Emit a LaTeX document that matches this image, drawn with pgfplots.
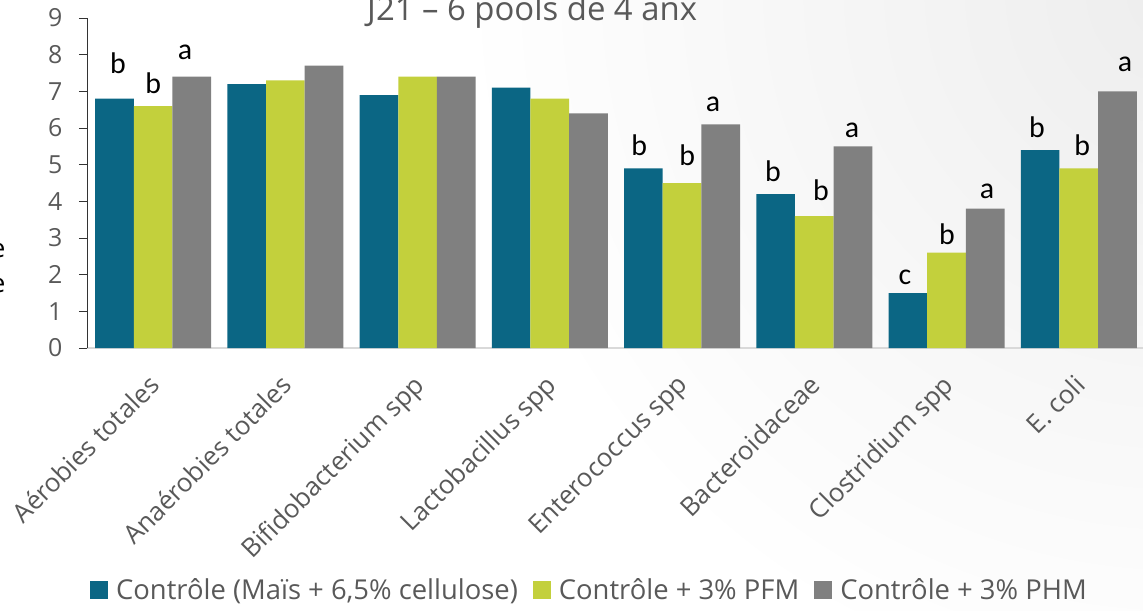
\documentclass[border=0pt]{standalone}
\usepackage{pgfplots}
\pgfplotsset{compat=1.18}
\usepackage{fontspec}
\setmainfont{Open Sans}
\newfontfamily\carl{Carlito}
\definecolor{cteal}{HTML}{0B6684}
\definecolor{clime}{HTML}{C3D03C}
\definecolor{cgray}{HTML}{808080}
\definecolor{txt}{HTML}{595959}
\begin{document}
\begin{tikzpicture}
\useasboundingbox (0,0) rectangle (1143bp,611bp);
\begin{scope}
\clip (0,0) rectangle (1143bp,611bp);
\shade[inner color=black!7, outer color=white] (1180bp,620bp) circle (720bp);
\end{scope}
\begin{axis}[
  at={(87bp,263bp)}, anchor=south west,
  scale only axis, width=1058bp, height=330bp,
  ybar=0pt, bar width=38.7bp,
  xmin=-0.5, xmax=7.5, ymin=0, ymax=9,
  clip=false,
  xtick={0,...,7},
  xticklabels={A\'erobies totales, Ana\'erobies totales, Bifidobacterium spp, Lactobacillus spp, Enterococcus spp, Bacteroidaceae, Clostridium spp, E. coli},
  ytick={0,...,9},
  axis x line*=bottom, axis y line*=left,
  x axis line style={draw=black!15, line width=1.5bp, -},
  y axis line style={draw=black!80, line width=0.8bp, -},
  major x tick style={draw=none},
  major y tick style={draw=black!80, line width=0.8bp},
  tick align=outside, major tick length=8bp,
  /pgf/number format/assume math mode=true,
  yticklabel style={font=\fontsize{25}{30}\selectfont, text=txt, xshift=-13bp},
  xticklabel style={font=\fontsize{26}{31}\selectfont, text=txt, xshift=-6bp, yshift=4bp, rotate=45, anchor=north east},
  xticklabel shift={16bp},
  legend style={at={(0.474,-0.733)}, anchor=center, draw=none, fill=none,
    legend columns=3, font=\fontsize{27.5}{32}\selectfont, text=txt,
    nodes={inner sep=0pt},
    /tikz/every odd column/.append style={column sep=8bp},
    /tikz/every even column/.append style={column sep=15bp}},
  legend image code/.code={\fill[#1] (0bp,-9bp) rectangle (18bp,9bp);},
]
\addplot[fill=cteal, draw=none] coordinates {(0,6.8) (1,7.2) (2,6.9) (3,7.1) (4,4.9) (5,4.2) (6,1.5) (7,5.4)};
\addlegendentry{Contrôle (Maïs + 6,5\% cellulose)}
\addplot[fill=clime, draw=none] coordinates {(0,6.6) (1,7.3) (2,7.4) (3,6.8) (4,4.5) (5,3.6) (6,2.6) (7,4.9)};
\addlegendentry{Contrôle + 3\% PFM}
\addplot[fill=cgray, draw=none] coordinates {(0,7.4) (1,7.7) (2,7.4) (3,6.4) (4,6.1) (5,5.5) (6,3.8) (7,7.0)};
\addlegendentry{Contrôle + 3\% PHM}

\node[anchor=base, font=\fontsize{33}{38}\selectfont, text=txt] at (axis cs:2.866,8.94) {J21 – 6 pools de 4 anx};
\node[anchor=east, align=right, font=\fontsize{26}{35}\selectfont] at (axis cs:-1.09,2.25) {log UFC/g de\\ matière fraîche};

\begin{scope}[every node/.style={anchor=base, font=\carl\fontsize{30}{36}\selectfont, inner sep=0pt}]
\node at (axis cs:-0.265,7.50) {b};
\node at (axis cs:0.0,6.95) {b};
\node at (axis cs:0.242,7.88) {a};
\node at (axis cs:3.675,5.26) {b};
\node at (axis cs:4.038,4.99) {b};
\node at (axis cs:4.234,6.46) {a};
\node at (axis cs:4.688,4.53) {b};
\node at (axis cs:5.051,4.01) {b};
\node at (axis cs:5.285,5.75) {a};
\node at (axis cs:5.686,1.72) {c};
\node at (axis cs:6.004,2.81) {b};
\node at (axis cs:6.306,4.09) {a};
\node at (axis cs:6.684,5.75) {b};
\node at (axis cs:7.025,5.26) {b};
\node at (axis cs:7.35,7.53) {a};
\end{scope}
\end{axis}
\end{tikzpicture}
\end{document}
